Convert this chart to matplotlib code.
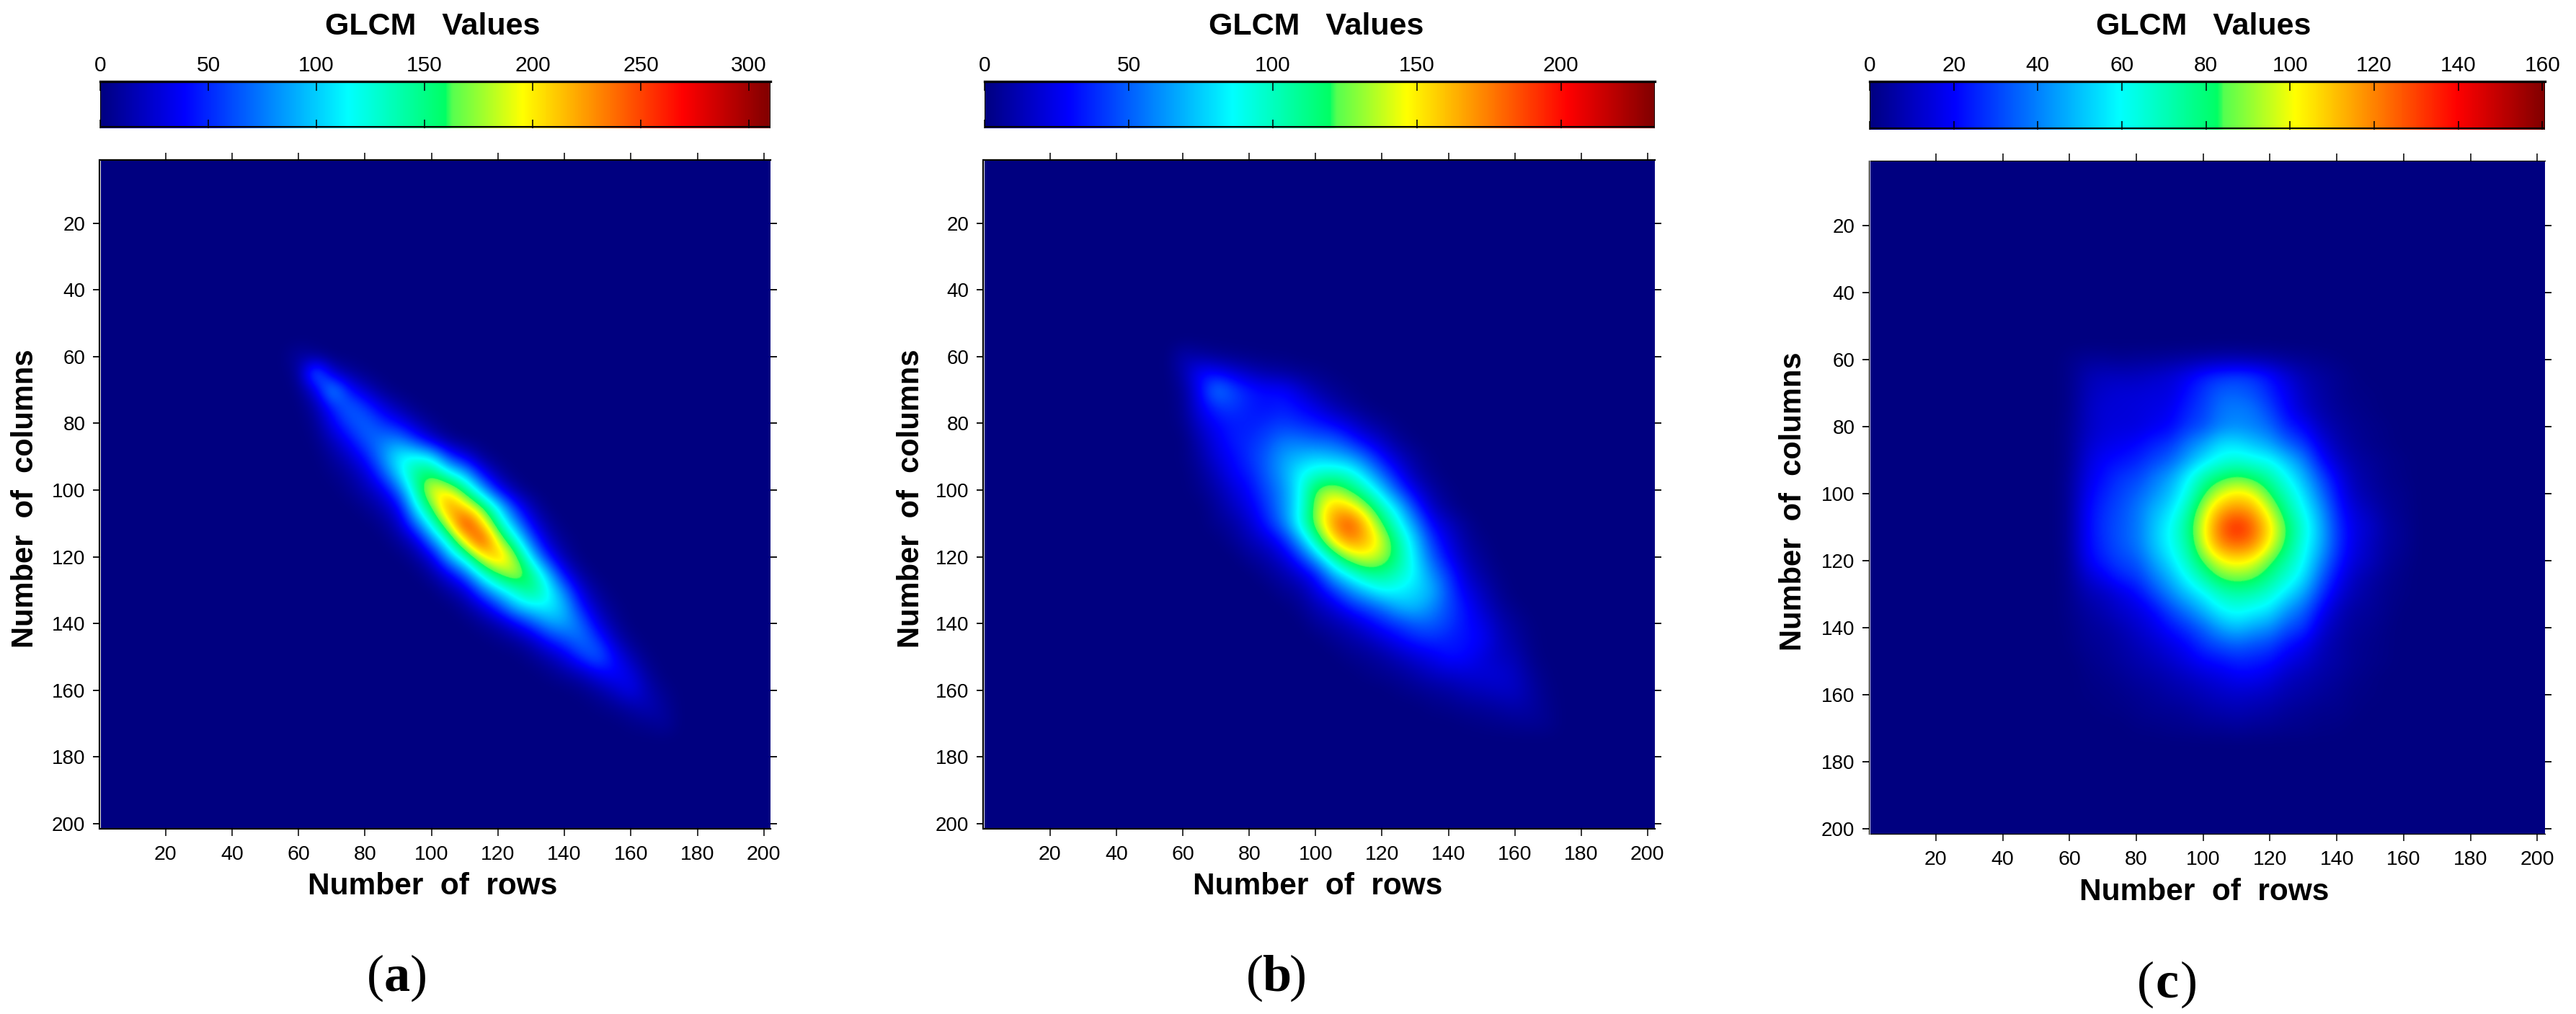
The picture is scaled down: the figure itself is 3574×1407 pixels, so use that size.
import numpy as np
import matplotlib
matplotlib.use('Agg')
import matplotlib.pyplot as plt
from matplotlib.colors import LinearSegmentedColormap, Normalize
from matplotlib.cm import ScalarMappable

W, H = 3574, 1407
plt.rcParams['font.family'] = ['Liberation Sans', 'DejaVu Sans']

# GLCM values, every 5 bins for rows 60..170.
# each row is stored from its first non zero column (the *_start list)
grid_axis = list(range(60, 175, 5))

a_start = [60, 60, 60, 65, 65, 65, 70, 70, 75, 80, 85, 90, 95, 100, 105, 110, 115, 120,
           130, 135, 145, 150, 160]
a_rows = [
    [12, 6],
    [6, 85, 25, 10, 2],
    [2, 30, 95, 45, 22, 5],
    [12, 50, 70, 55, 30, 12, 2],
    [5, 35, 60, 70, 55, 40, 18, 4],
    [2, 18, 40, 65, 75, 80, 55, 25, 6],
    [8, 22, 45, 80, 115, 120, 110, 55, 30, 6],
    [3, 10, 25, 60, 105, 150, 160, 120, 95, 40, 10],
    [5, 15, 30, 70, 135, 200, 195, 150, 95, 40, 10],
    [5, 15, 35, 110, 165, 235, 205, 165, 110, 50, 15],
    [5, 20, 70, 125, 190, 270, 210, 140, 85, 35, 8],
    [8, 25, 80, 130, 205, 265, 185, 130, 65, 20, 4],
    [8, 30, 90, 130, 195, 225, 175, 105, 45, 12],
    [10, 35, 70, 125, 165, 190, 150, 95, 35, 8],
    [10, 25, 70, 105, 130, 155, 120, 75, 25, 6],
    [8, 25, 55, 95, 110, 115, 95, 45, 15, 3],
    [6, 15, 35, 60, 85, 90, 70, 30, 8],
    [3, 8, 20, 45, 60, 75, 55, 20, 4],
    [5, 15, 30, 55, 70, 40, 15, 2],
    [3, 10, 18, 35, 42, 30, 8],
    [3, 10, 22, 35, 15, 4],
    [2, 6, 12, 18, 8],
    [3, 5, 10],
]

b_start = [60, 60, 60, 60, 60, 65, 60, 65, 65, 70, 70, 75, 80, 85, 90, 95, 100, 105,
           110, 115, 125, 135, 145]
b_rows = [
    [12, 8, 5, 3, 2, 1, 1],
    [10, 32, 30, 22, 15, 10, 8, 5, 3, 1],
    [5, 28, 60, 45, 35, 30, 30, 20, 10, 5, 2],
    [4, 25, 40, 42, 35, 32, 35, 30, 22, 12, 6, 2],
    [3, 18, 30, 35, 35, 38, 42, 38, 35, 28, 20, 10, 5, 1],
    [12, 25, 35, 38, 45, 55, 55, 50, 50, 38, 25, 15, 5, 1],
    [1, 8, 22, 30, 40, 50, 65, 70, 75, 70, 65, 50, 30, 15, 6, 1],
    [5, 15, 28, 35, 50, 65, 85, 95, 100, 95, 75, 50, 28, 10, 3],
    [3, 10, 20, 30, 45, 60, 85, 125, 135, 120, 100, 75, 45, 22, 8, 2],
    [6, 15, 25, 40, 60, 85, 130, 160, 155, 130, 100, 75, 40, 15, 5],
    [4, 8, 18, 35, 55, 90, 130, 170, 190, 160, 120, 90, 60, 28, 15, 5],
    [5, 12, 20, 35, 65, 105, 150, 175, 165, 140, 105, 75, 40, 22, 8, 2],
    [6, 10, 20, 40, 70, 105, 135, 145, 135, 110, 80, 50, 28, 12, 5],
    [5, 10, 20, 35, 70, 90, 110, 110, 100, 85, 60, 40, 18, 8, 2],
    [5, 8, 22, 40, 60, 75, 90, 85, 78, 70, 45, 25, 14, 4],
    [4, 12, 20, 35, 45, 55, 70, 72, 60, 45, 32, 18, 8, 2],
    [6, 10, 15, 25, 35, 42, 50, 50, 42, 32, 25, 12, 6, 1],
    [4, 8, 12, 20, 28, 35, 38, 35, 32, 28, 15, 8, 2],
    [3, 5, 8, 14, 20, 25, 32, 30, 22, 15, 12, 3],
    [2, 4, 6, 10, 15, 18, 20, 20, 20, 15, 6, 1],
    [2, 4, 6, 8, 12, 14, 16, 16, 8, 2],
    [2, 3, 5, 6, 8, 10, 8, 3],
    [1, 2, 3, 4, 5, 4],
]

c_start = [60] * 23
c_rows = [
    [2, 4, 4, 3, 4, 4, 5, 6, 7, 8, 8, 7, 6, 4, 3, 2, 1],
    [2, 8, 10, 10, 10, 12, 14, 18, 25, 28, 30, 28, 22, 14, 8, 5, 3, 1],
    [2, 9, 12, 14, 14, 15, 15, 22, 28, 35, 35, 32, 25, 18, 10, 6, 3, 1, 1],
    [2, 10, 14, 14, 15, 16, 18, 25, 30, 38, 40, 38, 30, 20, 12, 7, 4, 2, 1],
    [3, 10, 14, 15, 15, 18, 20, 28, 32, 40, 42, 40, 36, 25, 20, 10, 6, 3, 2, 1],
    [3, 12, 16, 18, 20, 25, 28, 38, 45, 55, 55, 50, 45, 35, 28, 16, 8, 4, 2, 1],
    [3, 14, 20, 22, 25, 30, 35, 45, 55, 62, 65, 62, 60, 50, 40, 22, 12, 6, 4, 2, 1],
    [4, 16, 22, 28, 30, 38, 45, 58, 72, 80, 85, 80, 72, 60, 48, 32, 18, 8, 5, 2, 1],
    [4, 18, 25, 30, 35, 42, 50, 62, 82, 98, 105, 100, 82, 68, 55, 38, 22, 10, 6, 3, 2],
    [4, 20, 27, 32, 38, 48, 55, 70, 95, 115, 120, 115, 95, 75, 60, 45, 25, 14, 9, 4, 2],
    [4, 20, 28, 33, 38, 50, 60, 75, 100, 125, 138, 125, 105, 82, 65, 48, 28, 16, 12, 5, 3],
    [4, 20, 27, 33, 38, 50, 60, 72, 98, 120, 125, 120, 100, 80, 62, 48, 28, 16, 10, 5, 3],
    [3, 18, 25, 30, 33, 45, 55, 68, 85, 100, 105, 100, 85, 72, 60, 42, 25, 14, 10, 4, 2],
    [3, 12, 18, 25, 28, 38, 48, 60, 72, 85, 88, 85, 75, 65, 55, 35, 20, 10, 6, 3, 1],
    [2, 8, 10, 15, 20, 30, 40, 50, 58, 68, 72, 70, 65, 55, 45, 28, 15, 8, 5, 2, 1],
    [2, 5, 8, 12, 15, 20, 30, 38, 48, 58, 62, 58, 55, 42, 35, 20, 10, 5, 4, 2],
    [1, 4, 5, 8, 12, 16, 22, 28, 35, 45, 50, 45, 42, 32, 28, 14, 8, 4, 3, 1],
    [1, 3, 4, 6, 9, 12, 16, 20, 28, 32, 35, 32, 30, 22, 18, 10, 6, 3, 2, 1],
    [0, 2, 3, 5, 7, 9, 12, 16, 20, 22, 25, 24, 22, 16, 13, 8, 6, 3, 2, 1],
    [0, 1, 2, 3, 5, 6, 8, 10, 13, 15, 18, 18, 15, 10, 8, 6, 4, 2, 1],
    [0, 1, 1, 2, 3, 4, 6, 7, 9, 11, 12, 11, 10, 7, 6, 4, 3, 1, 1],
    [0, 0, 1, 1, 2, 3, 3, 4, 6, 7, 8, 7, 6, 4, 3, 2, 2, 1],
    [0, 0, 0, 0, 1, 1, 2, 2, 3, 3, 4, 3, 3, 2, 2, 1, 1],
]

panel_rows = [a_rows, b_rows, c_rows]
panel_starts = [a_start, b_start, c_start]
vmax_list = [310, 232.6, 160.6]
cbar_ticks = [[0, 50, 100, 150, 200, 250, 300],
              [0, 50, 100, 150, 200],
              [0, 20, 40, 60, 80, 100, 120, 140, 160]]
axis_ticks = [20, 40, 60, 80, 100, 120, 140, 160, 180, 200]
letters = ['a', 'b', 'c']

# pixel layout: left, right, top, bottom of the image axes, then data limits
boxes = [(140, 1069, 222, 1150), (1366, 2296, 222, 1150), (2595, 3531, 223, 1157)]
cbar_boxes = [(139, 1069, 113, 178), (1366, 2296, 113, 178), (2594, 3531, 113, 180)]
xlims = [(0.56, 202.0), (0.26, 202.2), (0.4, 202.3)]
ylims = [(201.6, 1.0), (201.6, 1.0), (201.4, 0.6)]
title_x = [600, 1826, 3057]
title_y = [37, 37, 37]
xlabel_pos = [(600, 1230), (1828, 1230), (3058, 1238)]
ylabel_pos = [(35, 692), (1264, 692), (2488, 696)]
letter_pos = [(551, 1357), (1771, 1357), (3007, 1366)]

cmap = LinearSegmentedColormap.from_list('glcm', [
    (0.0, '#000080'), (0.125, '#0000ff'), (0.37, '#00ffff'),
    (0.515, '#00ff64'), (0.525, '#55ff50'), (0.63, '#ffff00'),
    (0.87, '#ff0000'), (1.0, '#800000')], N=512)


def box(b):
    return [b[0] / W, 1 - b[3] / H, (b[1] - b[0]) / W, (b[3] - b[2]) / H]


def to_matrix(rows, starts):
    m = np.zeros((len(grid_axis), len(grid_axis)))
    for j, row in enumerate(rows):
        k = grid_axis.index(starts[j])
        m[j, k:k + len(row)] = row
    return m


fig = plt.figure(figsize=(W / 100, H / 100), dpi=100, facecolor='white')

for i, rows in enumerate(panel_rows):
    # ring of zeros so the cloud fades to the background
    vals = np.pad(to_matrix(rows, panel_starts[i]), 1)
    lo, hi = grid_axis[0] - 7.5, grid_axis[-1] + 7.5
    ax = fig.add_axes(box(boxes[i]))
    ax.set_facecolor('#000080')
    ax.imshow(vals, cmap=cmap, vmin=0, vmax=vmax_list[i], interpolation='bicubic',
              extent=(lo, hi, hi, lo), aspect='auto', zorder=1)
    ax.set_xlim(xlims[i])
    ax.set_ylim(ylims[i])
    ax.set_xticks(axis_ticks)
    ax.set_yticks(axis_ticks)
    ax.tick_params(axis='x', top=True, bottom=True, direction='out', length=7.5,
                   width=1.1, labelsize=20.5, pad=9)
    ax.tick_params(axis='y', left=True, right=True, direction='out', length=6.5,
                   width=1.3, labelsize=20, pad=7.5)
    ax.spines['right'].set_visible(False)
    ax.spines['left'].set_position(('outward', 1.5))
    for side in ['left', 'bottom', 'top']:
        ax.spines[side].set_linewidth(1.6 if i < 2 else 0.9)

    cax = fig.add_axes(box(cbar_boxes[i]))
    cb = fig.colorbar(ScalarMappable(Normalize(0, vmax_list[i]), cmap), cax=cax,
                      orientation='horizontal')
    cb.set_ticks(cbar_ticks[i])
    cb.outline.set_visible(False)
    cax.tick_params(top=True, bottom=True, labeltop=True, labelbottom=False,
                    direction='in', length=9, width=1.1, labelsize=21.5, pad=6)
    cax.axhline(1, color='k', lw=2.4, clip_on=False)
    cax.axhline(0.03, color='k', lw=1.6)
    cax.axvline(0, color='k', lw=1.6)
    cax.axvline(vmax_list[i], color='k', lw=1.2)

    fig.text(title_x[i] / W, 1 - title_y[i] / H, 'GLCM   Values', fontsize=31,
             fontweight='bold', ha='center', va='center')
    fig.text(xlabel_pos[i][0] / W, 1 - xlabel_pos[i][1] / H, 'Number  of  rows',
             fontsize=30.5, fontweight='bold', ha='center', va='center')
    fig.text(ylabel_pos[i][0] / W, 1 - ylabel_pos[i][1] / H, 'Number  of  columns',
             fontsize=30, fontweight='bold', ha='center', va='center', rotation=90)

    cx, cy = letter_pos[i]
    serif = ['Liberation Serif', 'DejaVu Serif']
    fig.text((cx - 30) / W, 1 - cy / H, '(', fontsize=52, family=serif, ha='center', va='center')
    fig.text(cx / W, 1 - cy / H, letters[i], fontsize=52, family=serif, fontweight='bold',
             ha='center', va='center')
    fig.text((cx + 30) / W, 1 - cy / H, ')', fontsize=52, family=serif, ha='center', va='center')

fig.savefig('out.png', dpi=100)
